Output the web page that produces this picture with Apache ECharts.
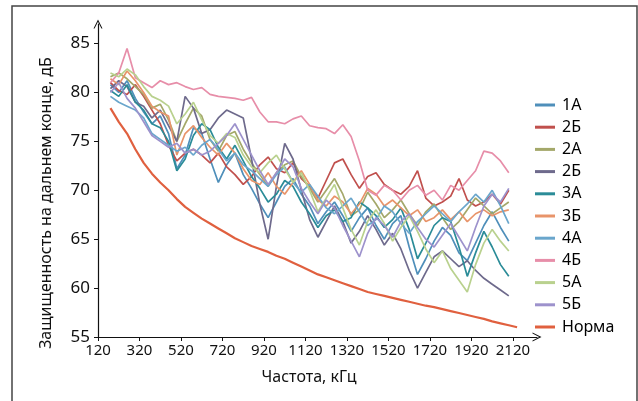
<!DOCTYPE html>
<html>
<head>
<meta charset="utf-8">
<title>Защищенность на дальнем конце</title>
<script src="https://cdn.jsdelivr.net/npm/echarts@6/dist/echarts.min.js"></script>
<style>
  html, body { margin: 0; padding: 0; background: #fff; }
  #main { width: 638px; height: 401px; }
</style>
</head>
<body>
<div id="main"></div>
<script>
// частоты измерений, кГц
const freq = [180, 220, 260, 300, 340, 380, 420, 460, 500, 540, 580, 620, 660, 700, 740, 780,
  820, 860, 900, 940, 980, 1020, 1060, 1100, 1140, 1180, 1220, 1260, 1300, 1340, 1380, 1420,
  1460, 1500, 1540, 1580, 1620, 1660, 1700, 1740, 1780, 1820, 1860, 1900, 1940, 1980, 2020,
  2060, 2100];
const normaFreq = freq.concat([2140]);

const xTicks = [120, 320, 520, 720, 920, 1120, 1320, 1520, 1720, 1920, 2120];
const yTicks = [55, 60, 65, 70, 75, 80, 85];

const names = ['1А', '2Б', '2А', '2Б ', '3А', '3Б', '4А', '4Б', '5А', '5Б', 'Норма'];
const colors = ['#4f8fba', '#c0504d', '#a4a86a', '#6e6a8c', '#2b8c98', '#e8946a',
  '#6aa6cc', '#e78ea9', '#b9d18e', '#9d92cc', '#e0603f'];

const s1A = [80.8, 80.0, 81.2, 79.4, 78.0, 76.8, 77.6, 75.8, 72.2, 73.6, 76.4, 75.8, 73.2, 70.8, 72.6, 73.8,
  71.6, 70.2, 68.6, 67.2, 68.8, 70.4, 71.2, 69.6, 68.4, 66.6, 67.8, 68.8, 67.4, 65.8, 67.2, 68.2,
  66.4, 65.0, 66.6, 67.4, 64.2, 61.4, 63.0, 64.8, 66.2, 65.4, 63.6, 62.8, 64.6, 66.4, 67.8, 66.2, 64.8];
const s2B = [81.0, 80.2, 79.8, 80.8, 79.6, 78.2, 76.8, 74.6, 73.0, 73.8, 74.2, 73.6, 72.8, 73.8, 72.4, 71.6,
  70.6, 71.4, 72.6, 73.4, 72.2, 71.8, 72.8, 71.2, 70.4, 69.2, 71.0, 72.8, 73.2, 71.6, 70.2, 71.4,
  71.8, 70.6, 70.0, 69.6, 70.4, 72.0, 69.2, 68.4, 68.8, 69.4, 71.2, 69.0, 68.4, 68.8, 69.6, 68.6, 70.0];
const s2A = [81.6, 82.0, 81.4, 80.6, 79.8, 78.4, 78.8, 77.2, 75.0, 76.8, 78.4, 77.6, 75.2, 74.0, 75.6, 76.0,
  74.2, 72.8, 71.6, 70.4, 71.8, 72.6, 73.0, 71.4, 70.2, 68.8, 70.0, 71.2, 69.6, 67.4, 68.0, 69.8,
  68.6, 67.2, 68.0, 69.0, 67.6, 66.4, 67.8, 68.6, 67.2, 66.0, 66.8, 68.0, 69.2, 68.4, 67.6, 68.2, 68.8];
const s2B2 = [80.4, 81.2, 80.6, 79.0, 78.6, 77.4, 78.2, 76.6, 75.0, 79.6, 78.4, 75.8, 76.2, 77.4, 78.2, 77.8,
  77.4, 73.2, 68.6, 65.0, 70.4, 74.8, 73.2, 70.0, 67.0, 65.2, 66.8, 68.4, 66.8, 64.6, 65.8, 67.4,
  66.0, 64.4, 65.6, 64.0, 61.8, 60.0, 61.6, 63.2, 63.8, 63.0, 62.2, 62.8, 61.8, 61.0, 60.4, 59.8, 59.2];
const s3A = [80.2, 79.6, 80.8, 79.0, 78.2, 76.8, 76.4, 75.0, 72.0, 73.2, 75.6, 76.8, 76.2, 74.4, 73.2, 74.6,
  73.0, 71.4, 70.2, 68.8, 69.6, 71.0, 70.4, 68.8, 67.6, 66.2, 67.4, 68.0, 66.8, 67.2, 68.8, 68.2,
  67.4, 66.2, 67.0, 68.2, 66.0, 63.0, 64.6, 66.4, 67.2, 66.8, 64.2, 61.2, 63.6, 65.8, 64.2, 62.4, 61.2];
const s3B = [81.4, 80.8, 82.2, 81.2, 80.0, 78.6, 78.0, 77.6, 73.6, 75.8, 76.6, 75.4, 74.4, 73.6, 74.8, 73.8,
  72.2, 71.0, 70.6, 71.8, 70.4, 69.6, 70.8, 72.0, 70.6, 69.0, 68.4, 69.4, 68.8, 67.6, 68.6, 70.2,
  69.6, 68.4, 69.0, 68.2, 67.4, 68.0, 66.8, 67.2, 68.0, 67.0, 67.8, 66.8, 67.6, 68.0, 67.4, 67.8, 68.0];
const s4A = [79.6, 79.0, 78.6, 78.2, 77.4, 75.8, 75.2, 74.6, 74.0, 74.4, 73.6, 74.6, 75.2, 74.2, 73.0, 73.8,
  72.6, 72.0, 71.2, 70.4, 71.6, 72.4, 70.8, 69.8, 70.6, 69.4, 68.2, 67.6, 68.4, 69.2, 67.8, 66.4,
  67.0, 68.4, 67.8, 66.6, 65.6, 66.8, 67.6, 68.4, 67.6, 66.8, 67.8, 68.6, 69.6, 68.8, 70.0, 68.4, 66.6];
const s4B = [81.0, 82.0, 84.5, 81.5, 81.0, 80.5, 81.2, 80.8, 81.0, 80.6, 80.3, 80.5, 79.8, 79.6, 79.5, 79.4,
  79.2, 79.5, 78.0, 77.0, 77.0, 76.8, 77.3, 77.6, 76.6, 76.4, 76.3, 75.8, 76.7, 75.5, 73.0, 70.0,
  69.5, 70.5, 70.0, 69.0, 70.0, 70.5, 69.5, 70.0, 69.0, 70.5, 70.0, 71.0, 72.0, 74.0, 73.8, 73.0, 71.8];
const s5A = [82.0, 81.6, 82.4, 81.8, 80.6, 79.6, 79.2, 78.6, 76.8, 77.8, 79.0, 77.2, 75.6, 74.8, 75.8, 75.4,
  73.6, 72.4, 71.8, 72.8, 73.6, 72.2, 70.8, 71.8, 70.0, 67.8, 69.2, 70.6, 68.2, 66.0, 64.4, 66.8,
  68.0, 66.6, 64.8, 66.2, 67.4, 65.8, 64.0, 62.6, 63.8, 62.0, 60.8, 59.6, 62.4, 64.6, 66.0, 64.8, 63.8];
const s5B = [80.0, 81.0, 79.4, 78.4, 77.0, 75.6, 75.0, 74.4, 74.8, 73.8, 74.2, 73.6, 74.0, 74.8, 75.6, 76.8,
  75.2, 73.6, 72.0, 70.6, 71.8, 73.2, 72.4, 70.2, 68.8, 67.6, 69.0, 68.2, 66.4, 64.8, 63.2, 65.6,
  67.2, 66.4, 65.2, 66.8, 67.6, 66.2, 65.0, 64.2, 65.4, 66.6, 65.2, 63.8, 66.2, 68.4, 69.6, 68.8, 70.2];
const norma = [78.4, 77.0, 75.8, 74.2, 72.8, 71.7, 70.8, 70.0, 69.1, 68.3, 67.7, 67.1, 66.6, 66.1, 65.6, 65.1,
  64.7, 64.3, 64.0, 63.7, 63.3, 63.0, 62.6, 62.2, 61.8, 61.4, 61.1, 60.8, 60.5, 60.2, 59.9, 59.6,
  59.4, 59.2, 59.0, 58.8, 58.6, 58.4, 58.2, 58.05, 57.85, 57.65, 57.45, 57.25, 57.05, 56.85, 56.6,
  56.4, 56.2, 56.0];

const values = [s1A, s2B, s2A, s2B2, s3A, s3B, s4A, s4B, s5A, s5B, norma];

// открытая стрелка на конце оси
const chevron = 'path://M0,10 L5,0 L10,10 L8.8,10 L5,2.6 L1.2,10 Z';
const font = '"Noto Sans", sans-serif';

const chart = echarts.init(document.getElementById('main'));

const series = values.map((vals, i) => {
  const xs = i === values.length - 1 ? normaFreq : freq;
  return {
    name: names[i],
    type: 'line',
    symbol: 'none',
    data: xs.map((f, k) => [f, vals[k]]),
    lineStyle: { color: colors[i], width: i === values.length - 1 ? 2.2 : 1.7 },
    itemStyle: { color: colors[i] },
    z: i === values.length - 1 ? 3 : 2
  };
});

chart.setOption({
  animation: false,
  backgroundColor: '#fff',
  textStyle: { fontFamily: font },
  grid: { left: 98, right: 101, top: 24, bottom: 64 },
  legend: {
    orient: 'vertical',
    left: 530,
    top: 90,
    itemWidth: 20,
    itemHeight: 3,
    itemGap: 2.2,
    icon: 'rect',
    data: names,
    textStyle: { fontSize: 16, lineHeight: 20, color: '#000', fontFamily: font, padding: [0, 0, 0, 2] }
  },
  xAxis: {
    type: 'value',
    min: 120,
    max: 2236,
    axisLine: {
      lineStyle: { color: '#111', width: 1.2 },
      symbol: ['none', chevron],
      symbolSize: [9, 9]
    },
    axisTick: { customValues: xTicks, length: 4, lineStyle: { color: '#111' } },
    axisLabel: {
      customValues: xTicks,
      formatter: v => String(v),
      fontSize: 15,
      color: '#111',
      margin: 6
    },
    splitLine: { show: false }
  },
  yAxis: {
    type: 'value',
    min: 55,
    max: 87,
    axisLine: {
      show: true,
      lineStyle: { color: '#111', width: 1.2 },
      symbol: ['none', chevron],
      symbolSize: [9, 9]
    },
    axisTick: { show: true, customValues: yTicks, length: 4, lineStyle: { color: '#111' } },
    axisLabel: { customValues: yTicks, fontSize: 17, color: '#111', margin: 8 },
    splitLine: { show: false }
  },
  graphic: [
    {
      type: 'rect',
      shape: { x: 12, y: 6, width: 625, height: 410 },
      style: { fill: 'none', stroke: '#444', lineWidth: 1.5 },
      silent: true
    },
    {
      type: 'text',
      x: 46,
      y: 203,
      rotation: Math.PI / 2,
      style: {
        text: 'Защищенность на дальнем конце, дБ',
        fontSize: 16,
        fontFamily: font,
        fill: '#111',
        align: 'center',
        verticalAlign: 'middle'
      }
    },
    {
      type: 'text',
      x: 309,
      y: 377,
      style: {
        text: 'Частота, кГц',
        fontSize: 16,
        fontFamily: font,
        fill: '#111',
        align: 'center',
        verticalAlign: 'middle'
      }
    }
  ],
  series
});
</script>
</body>
</html>
